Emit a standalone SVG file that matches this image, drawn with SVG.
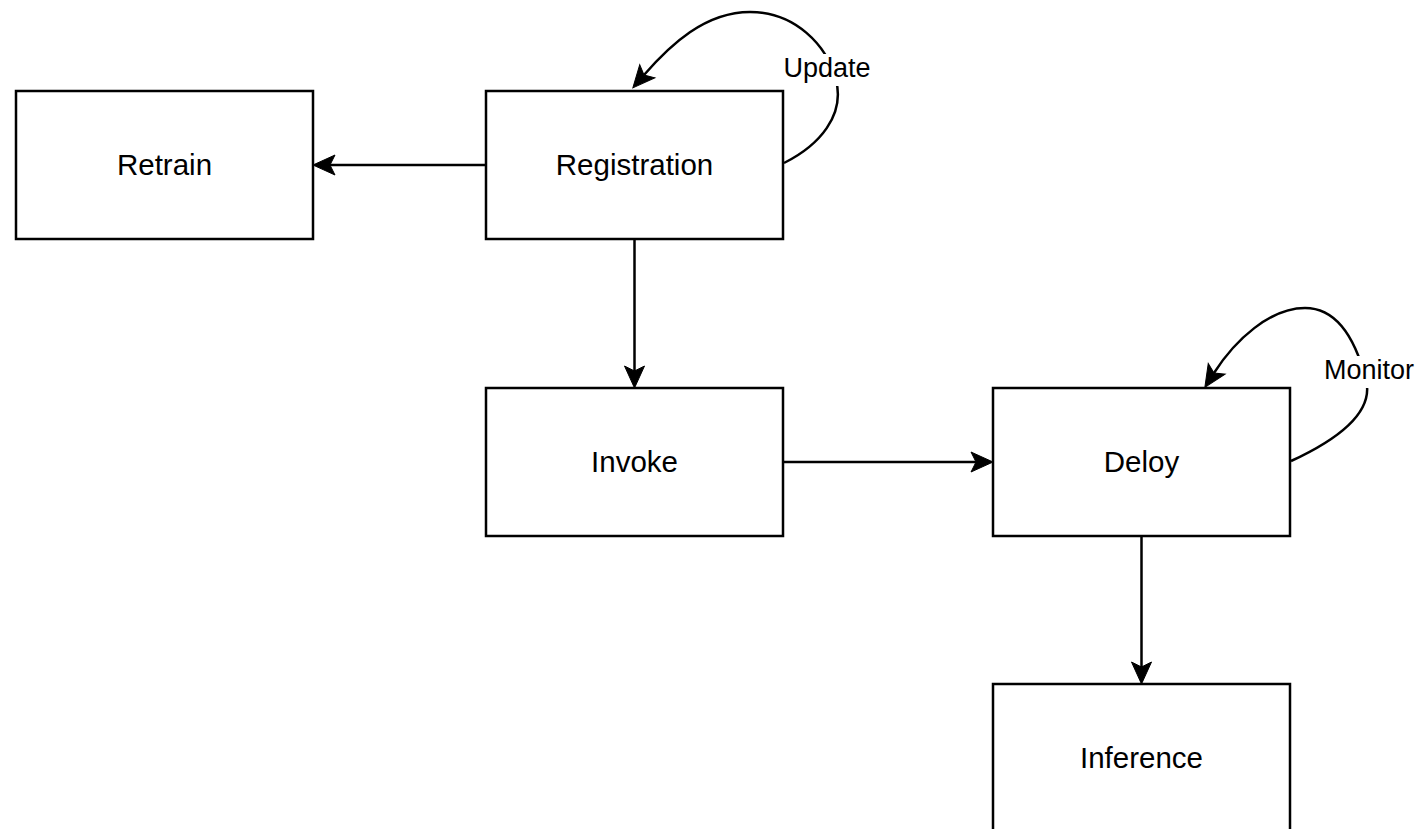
<svg xmlns="http://www.w3.org/2000/svg" width="1417" height="829" viewBox="0 0 1417 829">
<style>
.box{fill:#fff;stroke:#000;stroke-width:2.5}
.lbl{font-family:"Liberation Sans",Arial,sans-serif;font-size:29.5px;fill:#000;text-anchor:middle}
.elbl{font-family:"Liberation Sans",Arial,sans-serif;font-size:27px;fill:#000;text-anchor:middle}
.edge{fill:none;stroke:#000;stroke-width:2.5;marker-end:url(#arr)}
.bg{fill:#fff}
</style>
<defs>
<marker id="arr" markerUnits="userSpaceOnUse" markerWidth="40" markerHeight="40" viewBox="-10 -20 40 40" refX="0" refY="0" orient="auto" overflow="visible">
<path d="M17,0 L-5,-10 L0,0 L-5,10 Z" fill="#000" stroke="#000" stroke-width="1" stroke-linejoin="miter"/>
</marker>
</defs>
<rect width="1417" height="829" fill="#fff"/>
<g id="connectors">
<path class="edge" d="M486,165 L330,165"/>
<path class="edge" d="M634.5,239 L634.5,371"/>
<path class="edge" d="M783,462 L976,462"/>
<path class="edge" d="M1141.5,536 L1141.5,667"/>
<path class="edge" d="M784,163 C820,145 845,115 836,80 C827,45 795,12 750,12 C705,12 670,45 644,75"/>
<path class="edge" d="M1291,461 C1330,443 1375,415 1366,380 C1357,345 1340,308 1305,308 C1270,308 1235,340 1214,373"/>
<g id="label-update">
<rect class="bg" x="782" y="54" width="90" height="32"/>
<text class="elbl" x="827" y="77">Update</text>
</g>
<g id="label-monitor">
<rect class="bg" x="1324" y="356" width="91" height="32"/>
<text class="elbl" x="1369" y="379">Monitor</text>
</g>
</g>
<g id="retrain">
<rect class="box" x="16" y="91" width="297" height="148"/>
<text class="lbl" x="164.5" y="175">Retrain</text>
</g>
<g id="registration">
<rect class="box" x="486" y="91" width="297" height="148"/>
<text class="lbl" x="634.5" y="175">Registration</text>
</g>
<g id="invoke">
<rect class="box" x="486" y="388" width="297" height="148"/>
<text class="lbl" x="634.5" y="472">Invoke</text>
</g>
<g id="deloy">
<rect class="box" x="993" y="388" width="297" height="148"/>
<text class="lbl" x="1141.5" y="472">Deloy</text>
</g>
<g id="inference">
<rect class="box" x="993" y="684" width="297" height="148"/>
<text class="lbl" x="1141.5" y="768">Inference</text>
</g>
</svg>
